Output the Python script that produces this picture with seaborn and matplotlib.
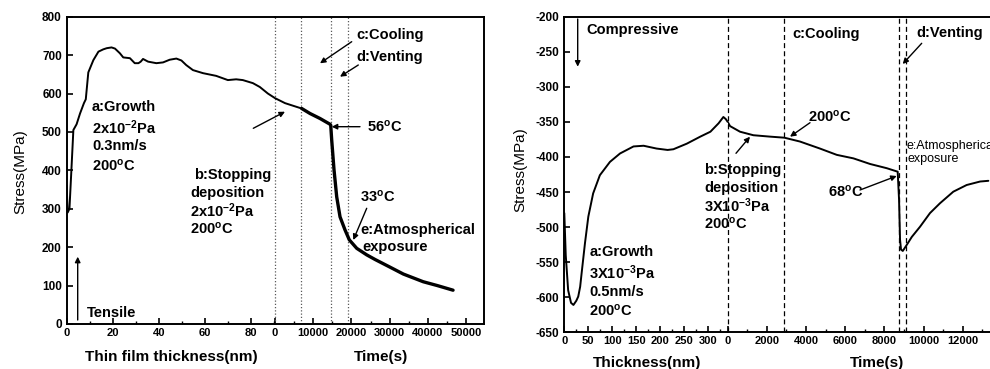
import numpy as np
import pandas as pd
import matplotlib
matplotlib.use("Agg")
import matplotlib.pyplot as plt
import seaborn as sns
from matplotlib.ticker import MultipleLocator
from matplotlib.patches import FancyArrowPatch

# ---------------- data ----------------
# Left panel: thickness part
left_thick_nm = [0, 0.4, 1.2, 2.2, 2.9, 4.3, 5.8, 7.5, 8.3, 9.4, 11.6, 13.8, 15.9, 17.4,
                 19.5, 21, 23.1, 24.6, 27.5, 29.6, 31.2, 32.2, 33.2, 35.4, 39, 41.9, 44.8,
                 47.7, 49.9, 52, 54.9, 59.3, 65, 70.1, 73.7, 76.6, 81, 84, 87.5, 90.6]
left_thick_stress = [360, 290, 300, 420, 505, 520, 548, 575, 585, 655, 687, 709, 715, 718,
                     720, 717, 705, 694, 692, 679, 679, 683, 690, 683, 679, 681, 688,
                     691, 686, 674, 661, 653, 646, 635, 637, 635, 627, 617, 600, 588]
# Left panel: time part
left_time_s = [0, 2620, 4790, 6990, 9160, 11780, 14400, 14580, 14840, 15450, 16150, 17020,
               18320, 19450, 21390, 24000, 26180, 30100, 33600, 38800, 42500, 46600]
left_time_stress = [588, 575, 568, 561, 548, 535, 520, 518, 479, 401, 331, 279,
                    245, 219, 197, 180, 168, 148, 130, 110, 100, 88]
left_events_s = [0, 6700, 14580, 19190]

# Right panel: thickness part
right_thick_nm = [0, 3, 8, 14, 19, 25, 29, 33, 36, 43, 50, 60, 74, 95, 116, 144, 165,
                  192, 215, 227, 255, 283, 304, 321, 331, 336, 340]
right_thick_stress = [-480, -540, -590, -608, -611, -605, -599, -585, -566, -523, -485,
                      -452, -426, -407, -395, -385, -384, -388, -390, -389, -381, -371,
                      -364, -352, -343, -346, -350]
# Right panel: time part
right_time_s = [0, 120, 630, 1310, 2160, 2890, 3690, 4710, 5570, 6420, 7270, 8120, 8680,
                8750, 8800, 8850, 8940, 9140, 9400, 9820, 10330, 10840, 11520, 12200,
                12890, 13310]
right_time_stress = [-350, -356, -364, -369, -371, -372.5, -378, -388, -397, -402, -410,
                     -416, -421, -461, -518, -532, -534, -525.5, -514, -499.5, -480, -466,
                     -449.5, -440, -435, -434]
right_events_s = [0, 2890, 8750, 9110]

left_y_ticks = list(range(0, 801, 100))
left_thick_ticks = [0, 20, 40, 60, 80]
left_time_ticks = [0, 10000, 20000, 30000, 40000, 50000]
right_y_ticks = list(range(-650, -199, 50))
right_thick_ticks = [0, 50, 100, 150, 200, 250, 300]
right_time_ticks = [0, 2000, 4000, 6000, 8000, 10000, 12000]

# ---------------- style ----------------
sns.set_theme(style="ticks")
plt.rcParams["font.family"] = ["Liberation Sans", "DejaVu Sans"]
plt.rcParams["mathtext.default"] = "regular"
plt.rcParams["axes.linewidth"] = 1.4
plt.rcParams["axes.edgecolor"] = "black"

W, H = 990, 369
fig = plt.figure(figsize=(W / 100, H / 100), dpi=100)
fig.patch.set_facecolor("white")


def rect(x0, x1, ytop, ybot):
    return [x0 / W, 1 - ybot / H, (x1 - x0) / W, (ybot - ytop) / H]


TICKFS = 8
YTICKFS = 8.5


def style_axes(ax, left_spine=True, right_spine=True):
    ax.patch.set_visible(False)
    ax.spines["left"].set_visible(left_spine)
    ax.spines["right"].set_visible(right_spine)
    ax.tick_params(axis="both", which="both", direction="in", colors="black",
                   top=False, right=False)
    ax.tick_params(which="major", length=4, width=1.2)
    ax.tick_params(which="minor", length=2.5, width=1.0)
    ax.tick_params(axis="x", pad=3)
    if not left_spine:
        ax.tick_params(axis="y", which="both", left=False, labelleft=False)
    ax.set_xlabel("")
    ax.set_ylabel("")
    ax.grid(False)


# ---------------- left panel ----------------
axL1 = fig.add_axes(rect(66.7, 275, 16.7, 324))
axL2 = fig.add_axes(rect(275, 484, 16.7, 324))

df_lt = pd.DataFrame({"x": left_thick_nm, "y": left_thick_stress})
sns.lineplot(data=df_lt, x="x", y="y", ax=axL1, color="black", lw=1.4,
             estimator=None, sort=False)
df_lti = pd.DataFrame({"x": left_time_s, "y": left_time_stress})
df_a = df_lti[df_lti.x <= 6990]
df_b = df_lti[df_lti.x >= 6990]
sns.lineplot(data=df_a, x="x", y="y", ax=axL2, color="black", lw=1.4,
             estimator=None, sort=False)
sns.lineplot(data=df_b, x="x", y="y", ax=axL2, color="black", lw=2.4,
             estimator=None, sort=False)
for t in left_events_s:
    axL2.axvline(t, color="0.35", ls=(0, (1, 1.6)), lw=0.9, clip_on=False, zorder=1)

axL1.set_xlim(0, 90.6)
axL2.set_xlim(0, 54700)
for ax in (axL1, axL2):
    ax.set_ylim(0, 800)
style_axes(axL1, left_spine=True, right_spine=False)
style_axes(axL2, left_spine=False, right_spine=True)
axL1.set_yticks(left_y_ticks, [str(v) for v in left_y_ticks], fontweight="bold",
                fontsize=YTICKFS)
axL1.set_xticks(left_thick_ticks, [str(v) for v in left_thick_ticks], fontweight="bold",
                fontsize=TICKFS)
axL1.xaxis.set_minor_locator(MultipleLocator(10))
axL2.set_xticks(left_time_ticks, [str(v) for v in left_time_ticks], fontweight="bold",
                fontsize=TICKFS)
axL2.xaxis.set_minor_locator(MultipleLocator(5000))

# ---------------- right panel ----------------
axR1 = fig.add_axes(rect(564.3, 727.7, 16.7, 332.3))
axR2 = fig.add_axes(rect(727.7, 996, 16.7, 332.3))

df_rt = pd.DataFrame({"x": right_thick_nm, "y": right_thick_stress})
sns.lineplot(data=df_rt, x="x", y="y", ax=axR1, color="black", lw=1.4,
             estimator=None, sort=False)
df_rti = pd.DataFrame({"x": right_time_s, "y": right_time_stress})
sns.lineplot(data=df_rti, x="x", y="y", ax=axR2, color="black", lw=1.4,
             estimator=None, sort=False)
for t in right_events_s:
    axR2.axvline(t, color="black", ls=(0, (4, 2.5)), lw=0.9, clip_on=False, zorder=1)

axR1.set_xlim(0, 340)
axR2.set_xlim(0, 13700)
for ax in (axR1, axR2):
    ax.set_ylim(-650, -200)
style_axes(axR1, left_spine=True, right_spine=False)
style_axes(axR2, left_spine=False, right_spine=False)
axR1.set_yticks(right_y_ticks, [str(v) for v in right_y_ticks], fontweight="bold",
                fontsize=YTICKFS)
axR1.set_xticks(right_thick_ticks, [str(v) for v in right_thick_ticks], fontweight="bold",
                fontsize=TICKFS)
axR1.xaxis.set_minor_locator(MultipleLocator(25))
axR2.set_xticks(right_time_ticks, [str(v) for v in right_time_ticks], fontweight="bold",
                fontsize=TICKFS)
axR2.xaxis.set_minor_locator(MultipleLocator(1000))

# ---------------- texts & arrows (figure pixel positions) ----------------
ANNFS = 10.5


def txt(s, x, y, size=ANNFS, weight="bold", ha="left", rot=0):
    fig.text(x / W, 1 - y / H, s, fontsize=size, fontweight=weight, ha=ha,
             va="center", rotation=rot, color="black")


def arrow(x1, y1, x2, y2, lw=1.0):
    p = FancyArrowPatch((x1 / W, 1 - y1 / H), (x2 / W, 1 - y2 / H),
                        transform=fig.transFigure, arrowstyle="-|>",
                        mutation_scale=8, color="black", lw=lw,
                        shrinkA=0, shrinkB=0, zorder=10)
    fig.add_artist(p)


# axis labels
txt("Stress(MPa)", 20, 172, size=11, weight="normal", ha="center", rot=90)
txt("Stress(MPa)", 520, 170, size=11, weight="normal", ha="center", rot=90)
txt("Thin film thickness(nm)", 171, 356.5, size=11, ha="center")
txt("Time(s)", 381, 356.5, size=11, ha="center")
txt("Thickness(nm)", 646.7, 363, size=11, ha="center")
txt("Time(s)", 876.7, 363, size=11, ha="center")

# left panel annotations
txt("a:Growth", 92, 107)
txt("2x10$^{-2}$Pa", 92, 127.7)
txt("0.3nm/s", 92, 146)
txt("200$^{o}$C", 92, 165.7)
txt("b:Stopping", 194, 175)
txt("deposition", 190, 192.5)
txt("2x10$^{-2}$Pa", 190, 210.5)
txt("200$^{o}$C", 190, 229)
arrow(253.3, 128.3, 285, 111.7)
txt("c:Cooling", 356.7, 35)
arrow(351.7, 41.7, 320, 63.3)
txt("d:Venting", 356.7, 56.7)
arrow(358.3, 65, 340, 76.7)
txt("56$^{o}$C", 366.7, 126.7)
arrow(360, 126.7, 331.7, 126.7)
txt("33$^{o}$C", 360, 196.7)
arrow(366.7, 208.3, 353.3, 240)
txt("e:Atmospherical", 360.7, 230)
txt("exposure", 362, 247.3)
txt("Tensile", 87.3, 313.3)
arrow(77.7, 320, 77.7, 256.7)

# right panel annotations
txt("Compressive", 586, 30)
arrow(577.7, 19, 577.7, 66.7)
txt("a:Growth", 589.3, 252)
txt("3X10$^{-3}$Pa", 589.3, 273)
txt("0.5nm/s", 589.3, 292)
txt("200$^{o}$C", 589.3, 311)
txt("b:Stopping", 704, 170)
txt("deposition", 704, 188)
txt("3X10$^{-3}$Pa", 704, 206)
txt("200$^{o}$C", 704, 224)
arrow(736, 153.3, 750, 136.7)
txt("c:Cooling", 792.7, 34.3)
txt("d:Venting", 916.7, 33.3)
arrow(921.7, 43.3, 902.7, 64)
txt("200$^{o}$C", 808.3, 116.7)
arrow(810, 122.7, 790, 136.7)
txt("68$^{o}$C", 828.3, 191.7)
arrow(860, 190, 896.7, 176)
txt("e:Atmospherical", 906.7, 145.7, size=9, weight="normal")
txt("exposure", 907, 159.3, size=9, weight="normal")

fig.savefig("out.png", dpi=100, facecolor="white")
